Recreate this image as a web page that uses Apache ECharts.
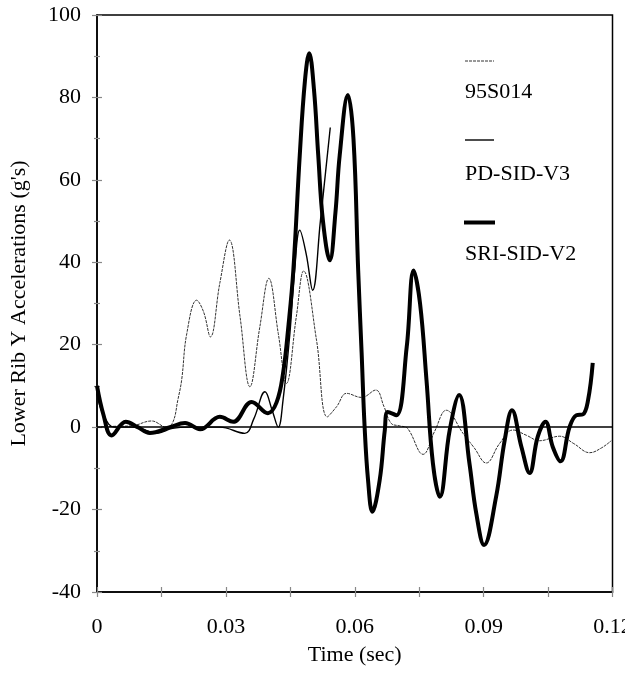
<!DOCTYPE html>
<html>
<head>
<meta charset="utf-8">
<script src="https://cdn.jsdelivr.net/npm/echarts@6/dist/echarts.min.js"></script>
<style>
html,body{margin:0;padding:0;background:#fff;}
#chart{width:625px;height:673px;}
</style>
</head>
<body>
<div id="chart"></div>
<script>
// ---- data ----
const seriesNames = ['95S014', 'PD-SID-V3', 'SRI-SID-V2'];
const xTickLabels = ['0', '0.03', '0.06', '0.09', '0.12'];
const yTickLabels = ['-40', '-20', '0', '20', '40', '60', '80', '100'];

const t95 = [0, 0.004, 0.008, 0.0127, 0.0162, 0.0177, 0.0188, 0.0197, 0.0209, 0.0232, 0.0248, 0.0264, 0.0286, 0.0308, 0.0333, 0.0356, 0.0379, 0.04, 0.0422, 0.0441, 0.0464, 0.0481, 0.0511, 0.0536, 0.0558, 0.0581, 0.0616, 0.0649, 0.0668, 0.0685, 0.0705, 0.0723, 0.0759, 0.0786, 0.0813, 0.0852, 0.0878, 0.0906, 0.0937, 0.0968, 0.1, 0.103, 0.1077, 0.111, 0.1147, 0.1175, 0.1197];
const v95 = [0, 0.2, 0.3, 1.5, 0, 1.3, 6.5, 11.4, 22.7, 30.8, 28, 21.9, 35, 45.4, 26.8, 9.8, 24.3, 36.1, 22.7, 10.6, 26.8, 37.9, 21.1, 2.5, 5, 8.2, 7.2, 9, 5, 0.9, 0.3, -0.3, -6.6, -1, 4.1, -1.5, -5, -8.7, -4, -0.7, -2, -3.3, -2.2, -4, -6.2, -5, -3.3];

const tPD = [0, 0.0015, 0.004, 0.008, 0.0105, 0.0139, 0.0176, 0.0216, 0.0286, 0.0344, 0.0365, 0.0391, 0.0408, 0.0422, 0.0433, 0.0449, 0.046, 0.0472, 0.0487, 0.0502, 0.052, 0.0543];
const vPD = [8, 3, 0, 0, -0.5, -1.5, -0.3, 0, 0, -1.5, 2, 8.6, 4, 0, 6.5, 22.7, 38, 47.8, 42, 33.2, 50, 72.7];

const tSRI = [0, 0.0015, 0.0034, 0.0067, 0.0095, 0.0123, 0.017, 0.0205, 0.024, 0.0286, 0.0317, 0.036, 0.0398, 0.0418, 0.0433, 0.0446, 0.0457, 0.0472, 0.0484, 0.0494, 0.0505, 0.0515, 0.0526, 0.0542, 0.0555, 0.0565, 0.0584, 0.0597, 0.0608, 0.0616, 0.0623, 0.0631, 0.0641, 0.0658, 0.067, 0.0677, 0.0697, 0.0721, 0.0737, 0.0752, 0.0767, 0.0782, 0.0798, 0.0821, 0.0843, 0.0867, 0.0883, 0.0901, 0.0929, 0.0949, 0.0966, 0.0988, 0.1007, 0.1026, 0.1044, 0.1061, 0.1079, 0.11, 0.1116, 0.1131, 0.1143, 0.1154];
const vSRI = [10, 3, -2, 1.3, 0, -1.4, 0, 1, -0.5, 2.5, 1.3, 6.1, 3.4, 6, 13, 25, 38, 66, 84, 90.7, 82, 66, 50, 40.5, 52, 66, 80.6, 70, 38, 18, 0, -12.9, -20.5, -12.9, -0.7, 3.7, 2.9, 19.5, 38, 30, 11.4, -8.8, -16.9, -0.7, 7.8, -8.8, -21, -28.6, -16.9, -3.2, 4.1, -4.8, -11.1, -2.3, 1.3, -4.8, -8.3, 0, 2.9, 3.1, 6.5, 15.6];

function pairs(t, v) { return t.map((x, i) => [x, v[i]]); }

const FONT = '"Liberation Serif", "Times New Roman", serif';
const FS = 22;

function xLabel(v) {
  const k = v / 0.03;
  const r = Math.round(k);
  if (Math.abs(k - r) < 1e-6 && r >= 0 && r < xTickLabels.length) return xTickLabels[r];
  return '';
}
function yLabel(v) {
  const idx = Math.round((v + 40) / 20);
  return yTickLabels[idx] !== undefined ? yTickLabels[idx] : '';
}

const chart = echarts.init(document.getElementById('chart'), null, {renderer: 'canvas'});

const tickStyle = {color: '#888888', width: 1.2};

chart.setOption({
  animation: false,
  backgroundColor: '#ffffff',
  grid: {left: 97, top: 15, right: 12.5, bottom: 81, containLabel: false, outerBoundsMode: 'none',
    show: true, borderColor: '#000', borderWidth: 1.5, backgroundColor: 'transparent'},
  xAxis: [{
    type: 'value', min: 0, max: 0.12, interval: 0.015,
    position: 'bottom',
    name: 'Time (sec)', nameLocation: 'middle', nameGap: 52,
    nameTextStyle: {fontFamily: FONT, fontSize: FS, color: '#000'},
    axisLine: {show: true, onZero: false, lineStyle: {color: '#000', width: 1.5}},
    axisTick: {show: true, inside: false, length: 5, lineStyle: tickStyle},
    axisLabel: {show: true, margin: 24, formatter: xLabel, fontFamily: FONT, fontSize: FS, color: '#000', hideOverlap: false},
    splitLine: {show: false}
  }, {
    type: 'value', min: 0, max: 0.12, interval: 0.015,
    position: 'bottom',
    axisLine: {show: false, onZero: false},
    axisTick: {show: true, inside: true, length: 5, lineStyle: tickStyle},
    axisLabel: {show: false},
    splitLine: {show: false}
  }],
  yAxis: [{
    type: 'value', min: -40, max: 100, interval: 20,
    position: 'left',
    name: "Lower Rib Y Accelerations (g's)", nameLocation: 'middle', nameGap: 67,
    nameTextStyle: {fontFamily: FONT, fontSize: FS, color: '#000'},
    axisLine: {show: true, onZero: false, lineStyle: {color: '#000', width: 1.5}},
    axisTick: {show: true, inside: false, length: 5, lineStyle: tickStyle},
    minorTick: {show: true, splitNumber: 2, length: 3, lineStyle: tickStyle},
    axisLabel: {show: true, margin: 16, formatter: yLabel, fontFamily: FONT, fontSize: FS, color: '#000'},
    splitLine: {show: false}, minorSplitLine: {show: false}
  }, {
    type: 'value', min: -40, max: 100, interval: 20,
    position: 'left',
    axisLine: {show: false, onZero: false},
    axisTick: {show: true, inside: true, length: 5, lineStyle: tickStyle},
    minorTick: {show: true, splitNumber: 2, length: 3, lineStyle: tickStyle},
    axisLabel: {show: false},
    splitLine: {show: false}, minorSplitLine: {show: false}
  }],
  series: [{
    name: seriesNames[0], type: 'line', xAxisIndex: 0, yAxisIndex: 0,
    data: pairs(t95, v95), showSymbol: false, smooth: 0.4,
    lineStyle: {color: '#333', width: 1, type: [3, 1]},
    markLine: {silent: true, symbol: ['none', 'none'], label: {show: false},
      lineStyle: {color: '#000', width: 1.5, type: 'solid'}, data: [{yAxis: 0}]},
    z: 2
  }, {
    name: seriesNames[1], type: 'line', xAxisIndex: 0, yAxisIndex: 0,
    data: pairs(tPD, vPD), showSymbol: false, smooth: 0.4,
    lineStyle: {color: '#000', width: 1.4, type: 'solid'},
    z: 3
  }, {
    name: seriesNames[2], type: 'line', xAxisIndex: 0, yAxisIndex: 0,
    data: pairs(tSRI, vSRI), showSymbol: false, smooth: 0.4,
    lineStyle: {color: '#000', width: 4, type: 'solid'},
    z: 4
  }],
  graphic: [
    {type: 'line', shape: {x1: 465, y1: 61, x2: 494, y2: 61}, style: {stroke: '#333', lineWidth: 1, lineDash: [3, 1]}},
    {type: 'text', left: 465, top: 81, style: {text: seriesNames[0], font: FS + 'px ' + FONT, fill: '#000'}},
    {type: 'line', shape: {x1: 465, y1: 140, x2: 494, y2: 140}, style: {stroke: '#000', lineWidth: 1.4}},
    {type: 'text', left: 465, top: 163, style: {text: seriesNames[1], font: FS + 'px ' + FONT, fill: '#000'}},
    {type: 'line', shape: {x1: 464, y1: 222.5, x2: 495, y2: 222.5}, style: {stroke: '#000', lineWidth: 4}},
    {type: 'text', left: 465, top: 243, style: {text: seriesNames[2], font: FS + 'px ' + FONT, fill: '#000'}}
  ]
});
</script>
</body>
</html>
